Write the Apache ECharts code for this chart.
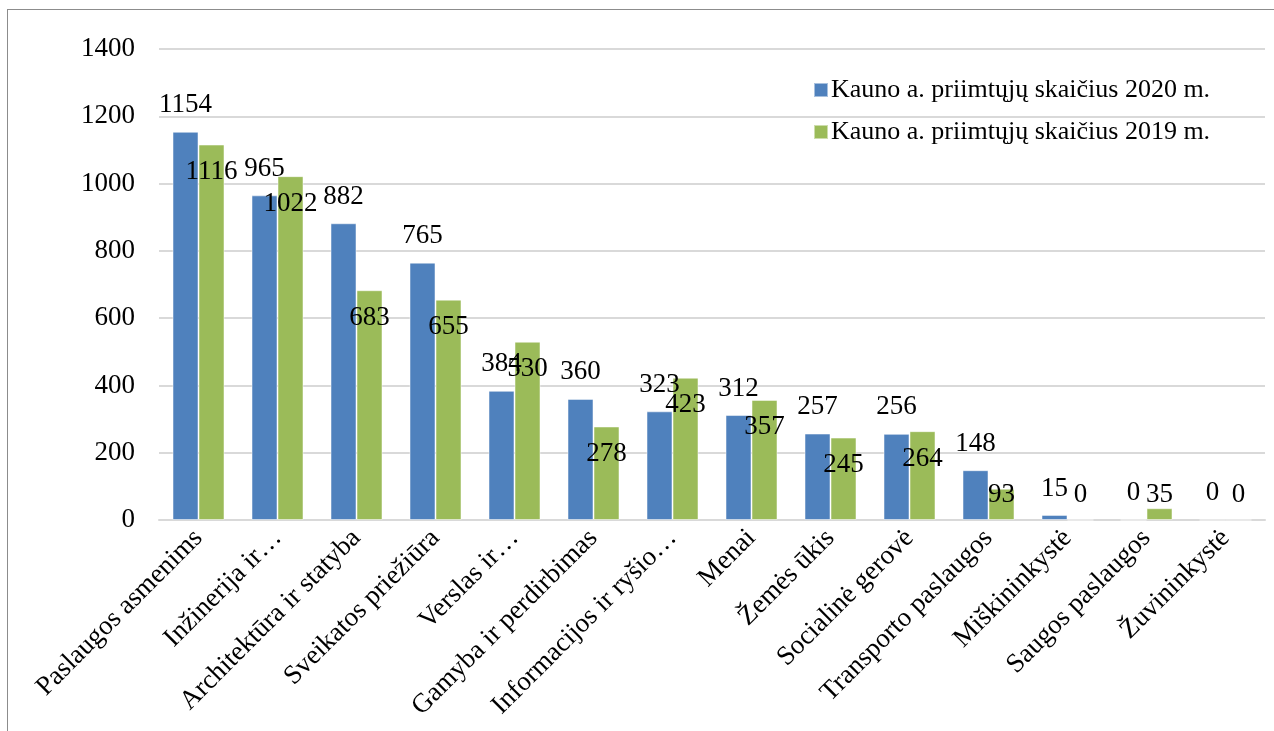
<!DOCTYPE html>
<html>
<head>
<meta charset="utf-8">
<script src="https://cdn.jsdelivr.net/npm/echarts@6/dist/echarts.min.js"></script>
<style>
	html, body { margin: 0; padding: 0; background: #fff; }
	.frame {
		position: absolute;
		left: 7px;
		top: 9px;
		width: 1290px;
		height: 740px;
		border: 1px solid #8c8c8c;
		box-sizing: border-box;
	}
	#chart { position: absolute; left: 0; top: 0; width: 1274px; height: 731px; }
</style>
</head>
<body>
<div class="frame"></div>
<div id="chart"></div>
<script>
const categories = [
	'Paslaugos asmenims', 'Inžinerija ir…', 'Architektūra ir statyba', 'Sveikatos priežiūra',
	'Verslas ir…', 'Gamyba ir perdirbimas', 'Informacijos ir ryšio…', 'Menai',
	'Žemės ūkis', 'Socialinė gerovė', 'Transporto paslaugos', 'Miškininkystė',
	'Saugos paslaugos', 'Žuvininkystė'
];
const values2020 = [1154, 965, 882, 765, 384, 360, 323, 312, 257, 256, 148, 15, 0, 0];
const values2019 = [1116, 1022, 683, 655, 530, 278, 423, 357, 245, 264, 93, 0, 35, 0];
const seriesNames = ['Kauno a. priimtųjų skaičius 2020 m.', 'Kauno a. priimtųjų skaičius 2019 m.'];

const font = 'Liberation Serif';
const labelStyle = { fontFamily: font, fontSize: 27, color: '#000' };

// green labels sit inside the bar top, short bars get them just above the baseline
function greenData(arr) {
	return arr.map(function (v) {
		if (v < 160) {
			return { value: v, label: { position: 'insideBottom', distance: 12 } };
		}
		return v;
	});
}

const myChart = echarts.init(document.getElementById('chart'));
const option = {
	animation: false,
	color: ['#4f81bd', '#9bbb59'],
	textStyle: { fontFamily: font },
	grid: {
		left: 159,
		right: 9,
		top: 49,
		height: 471,
		containLabel: false,
	},
	legend: {
		orient: 'vertical',
		left: 808,
		top: 72,
		itemWidth: 14,
		itemHeight: 14,
		itemGap: 16,
		icon: 'rect',
		textStyle: { fontFamily: font, fontSize: 26, color: '#000', padding: [0, 0, 0, -2] },
		data: seriesNames,
	},
	xAxis: {
		type: 'category',
		data: categories,
		axisLine: { lineStyle: { color: '#d9d9d9', width: 2 } },
		axisTick: { show: false },
		axisLabel: {
			interval: 0,
			rotate: 45,
			margin: 14,
			fontFamily: font,
			fontSize: 27,
			color: '#000',
		},
	},
	yAxis: {
		type: 'value',
		min: 0,
		max: 1400,
		interval: 200,
		axisLine: { show: false },
		axisTick: { show: false },
		splitLine: { lineStyle: { color: '#d9d9d9', width: 2 } },
		axisLabel: {
			margin: 24,
			fontFamily: font,
			fontSize: 27,
			color: '#000',
			formatter: function (v) { return String(v); },
		},
	},
	series: [
		{
			name: seriesNames[0],
			type: 'bar',
			barWidth: 26,
			barGap: '0%',
			itemStyle: { borderColor: 'rgba(255,255,255,0.5)', borderWidth: 1 },
			label: Object.assign({ show: true, position: 'top', distance: 13 }, labelStyle),
			data: values2020,
		},
		{
			name: seriesNames[1],
			type: 'bar',
			barWidth: 26,
			barGap: '0%',
			itemStyle: { borderColor: 'rgba(255,255,255,0.5)', borderWidth: 1 },
			label: Object.assign({ show: true, position: 'insideTop', distance: 14 }, labelStyle),
			data: greenData(values2019),
		},
	],
};
myChart.setOption(option);
</script>
</body>
</html>
